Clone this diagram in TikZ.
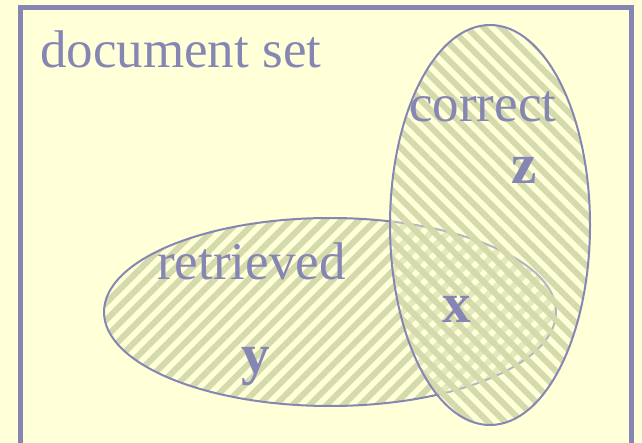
\documentclass[tikz,border=0pt]{standalone}
\usepackage{fontspec}
\setmainfont{Liberation Serif}
\usepackage{xcolor}
\usepackage{tikz}
\usetikzlibrary{patterns.meta}
\definecolor{setblue}{RGB}{134,134,180}
\definecolor{paper}{RGB}{255,255,216}
\definecolor{stripe}{RGB}{212,218,172}

\begin{document}
\begin{tikzpicture}[
    x=1pt, y=-1pt,
    word/.style={inner sep=0pt, text=setblue, font=\fontsize{53}{60}\selectfont, anchor=base west},
    letter/.style={inner sep=0pt, text=setblue, font=\fontsize{57}{60}\selectfont\bfseries, anchor=base},
    setline/.style={draw=setblue, line width=2pt},
    hatch/.style={pattern={Lines[angle=#1, distance=12pt, line width=6pt]}, pattern color=stripe}
]
\fill[paper] (0,0) rectangle (642,443);
\useasboundingbox (0,0) rectangle (642,443);
\path[hatch=45] (330,312) ellipse [x radius=226, y radius=94];
\draw[setline] (330,312) ellipse [x radius=226, y radius=94];
\fill[paper, fill opacity=0.4] (490,225) ellipse [x radius=100, y radius=200];
\path[hatch=-45, fill opacity=0.7] (490,225) ellipse [x radius=100, y radius=200];
\draw[setline] (490,225) ellipse [x radius=100, y radius=200];
\node[word] (docset) at (40,68) {document set};
\node[word] (correct) at (409,122) {correct};
\node[word] (retrieved) at (157,280) {retrieved};
\node[letter] (z) at (524,184) {z};
\node[letter] (x) at (457,323) {x};
\node[letter] (y) at (256,373) {y};
\draw[draw=setblue, line width=5pt] (20.5,470) |- (631.5,7.5) -- (631.5,470);
\end{tikzpicture}
\end{document}
